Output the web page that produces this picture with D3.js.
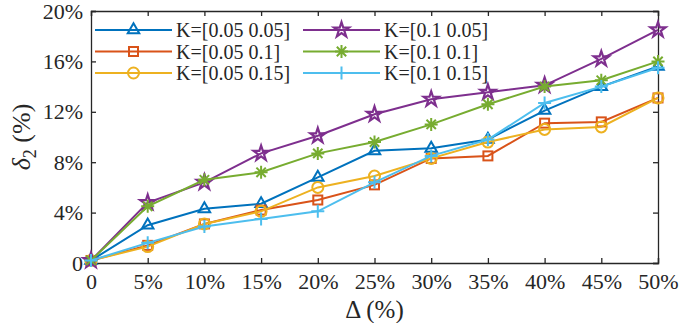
<!DOCTYPE html>
<html>
<head>
<meta charset="utf-8">
<script src="https://cdn.jsdelivr.net/npm/d3@7"></script>
<style>
  body { margin: 0; background: #fff; }
  svg text { font-family: "Times New Roman", Times, "Liberation Serif", "DejaVu Serif", serif; fill: #262626; }
</style>
</head>
<body>
<div id="chart"></div>
<script>
const WIDTH = 686;
const HEIGHT = 323;

const margin = { top: 11, right: 28, bottom: 60, left: 91 };
const FONT = '"Times New Roman", Times, "Liberation Serif", "DejaVu Serif", serif';

// x values (Delta, %)
const deltas = [0, 5, 10, 15, 20, 25, 30, 35, 40, 45, 50];
const xTickLabels = ["0", "5%", "10%", "15%", "20%", "25%", "30%", "35%", "40%", "45%", "50%"];
const yTicks = [0, 4, 8, 12, 16, 20];
const yTickLabels = ["0", "4%", "8%", "12%", "16%", "20%"];

const seriesNames = ["K=[0.05 0.05]", "K=[0.05 0.1]", "K=[0.05 0.15]", "K=[0.1 0.05]", "K=[0.1 0.1]", "K=[0.1 0.15]"];
const k005_005 = [0.2, 3.0, 4.3, 4.7, 6.8, 8.9, 9.1, 9.8, 12.1, 14.0, 15.6];
const k005_01  = [0.2, 1.4, 3.1, 4.2, 5.0, 6.2, 8.3, 8.5, 11.1, 11.2, 13.1];
const k005_015 = [0.2, 1.3, 3.1, 4.1, 6.0, 6.9, 8.3, 9.6, 10.6, 10.8, 13.1];
const k01_005  = [0.2, 4.8, 6.4, 8.7, 10.1, 11.8, 13.0, 13.55, 14.1, 16.2, 18.5];
const k01_01   = [0.2, 4.5, 6.6, 7.2, 8.7, 9.6, 11.0, 12.6, 14.0, 14.5, 16.0];
const k01_015  = [0.2, 1.6, 2.9, 3.5, 4.1, 6.4, 8.5, 9.8, 12.7, 14.0, 15.5];

const colors = ["#0072BD", "#D95319", "#EDB120", "#7E2F8E", "#77AC30", "#4DBEEE"];
const markers = ["triangle", "square", "circle", "star", "asterisk", "plus"];

const allSeries = [k005_005, k005_01, k005_015, k01_005, k01_01, k01_015].map((vals, i) => ({
    name: seriesNames[i], values: vals, color: colors[i], marker: markers[i]
}));

const svg = d3.select("#chart").append("svg").attr("width", WIDTH).attr("height", HEIGHT)
    .style("font-family", FONT);

const w = WIDTH - margin.left - margin.right;
const h = HEIGHT - margin.top - margin.bottom;

const x = d3.scaleLinear().domain([0, 50]).range([0, w]);
const y = d3.scaleLinear().domain([0, 20]).range([h, 0]);

const g = svg.append("g").attr("transform", "translate(" + margin.left + "," + margin.top + ")");

// axes, ticks point inward like matlab
const axisColor = "#262626";
const tickLen = 5;

const xAxis = d3.axisBottom(x).tickValues(deltas).tickSize(-tickLen).tickPadding(10)
    .tickFormat((d, i) => xTickLabels[i]);
const yAxis = d3.axisLeft(y).tickValues(yTicks).tickSize(-tickLen).tickPadding(8)
    .tickFormat((d, i) => yTickLabels[i]);
const xTop = d3.axisTop(x).tickValues(deltas).tickSize(-tickLen).tickFormat("");
const yRight = d3.axisRight(y).tickValues(yTicks).tickSize(-tickLen).tickFormat("");

g.append("g").attr("transform", "translate(0," + h + ")").call(xAxis);
g.append("g").call(yAxis);
g.append("g").call(xTop);
g.append("g").attr("transform", "translate(" + w + ",0)").call(yRight);

g.selectAll(".domain").attr("stroke", axisColor).attr("stroke-width", 1.3);
g.selectAll(".tick line").attr("stroke", axisColor).attr("stroke-width", 1.3);
g.selectAll("g").attr("font-family", null);
g.selectAll(".tick text").style("font-family", FONT)
    .style("font-size", "22px").attr("fill", axisColor);

function drawMarker(sel, type, color, size) {
    const s = size / 2;
    if (type === "triangle") {
        sel.append("path").attr("d", d3.symbol(d3.symbolTriangle2, 95)())
            .attr("fill", "none").attr("stroke", color).attr("stroke-width", 2);
    } else if (type === "square") {
        sel.append("rect").attr("x", -4.5).attr("y", -4.5).attr("width", 9).attr("height", 9)
            .attr("fill", "none").attr("stroke", color).attr("stroke-width", 2);
    } else if (type === "circle") {
        sel.append("circle").attr("r", 5.5)
            .attr("fill", "none").attr("stroke", color).attr("stroke-width", 2);
    } else if (type === "star") {
        sel.append("path").attr("d", d3.symbol(d3.symbolStar, 70)())
            .attr("fill", "none").attr("stroke", color).attr("stroke-width", 2.2);
    } else if (type === "asterisk") {
        const a = s * 0.72;
        sel.append("path")
            .attr("d", `M${-s},0L${s},0M0,${-s}L0,${s}M${-a},${-a}L${a},${a}M${-a},${a}L${a},${-a}`)
            .attr("stroke", color).attr("stroke-width", 2).attr("fill", "none");
    } else if (type === "plus") {
        sel.append("path")
            .attr("d", `M${-s},0L${s},0M0,${-s}L0,${s}`)
            .attr("stroke", color).attr("stroke-width", 2).attr("fill", "none");
    }
}

const line = d3.line().x((d, i) => x(deltas[i])).y(d => y(d));

allSeries.forEach(s => {
    g.append("path").datum(s.values).attr("d", line)
        .attr("fill", "none").attr("stroke", s.color).attr("stroke-width", 2);
    g.append("g").selectAll("g").data(s.values).join("g")
        .attr("transform", (d, i) => "translate(" + x(deltas[i]) + "," + y(d) + ")")
        .each(function() { drawMarker(d3.select(this), s.marker, s.color, 13); });
});

// legend, no box
const legend = svg.append("g");
const legCols = [95, 303];
const legRows = [30, 51.5, 73];
allSeries.forEach((s, i) => {
    const col = Math.floor(i / 3), row = i % 3;
    const lg = legend.append("g").attr("transform", "translate(" + legCols[col] + "," + legRows[row] + ")");
    lg.append("line").attr("x1", 0).attr("x2", 77).attr("y1", 0).attr("y2", 0)
        .attr("stroke", s.color).attr("stroke-width", 2);
    const m = lg.append("g").attr("transform", "translate(38.5,0)");
    drawMarker(m, s.marker, s.color, 13);
    lg.append("text").attr("x", 81).attr("y", 7).style("font-size", "20px").text(s.name);
});

// axis labels
svg.append("text")
    .attr("x", margin.left + w / 2).attr("y", 318)
    .attr("text-anchor", "middle").style("font-size", "25px")
    .text("Δ (%)");

const yl = svg.append("text")
    .attr("transform", "translate(30," + (margin.top + h / 2) + ") rotate(-90)")
    .attr("text-anchor", "middle").style("font-size", "26px");
yl.append("tspan").style("font-style", "italic").text("δ");
yl.append("tspan").attr("dy", 6).style("font-size", "18px").text("2");
yl.append("tspan").attr("dy", -6).text(" (%)");
</script>
</body>
</html>
